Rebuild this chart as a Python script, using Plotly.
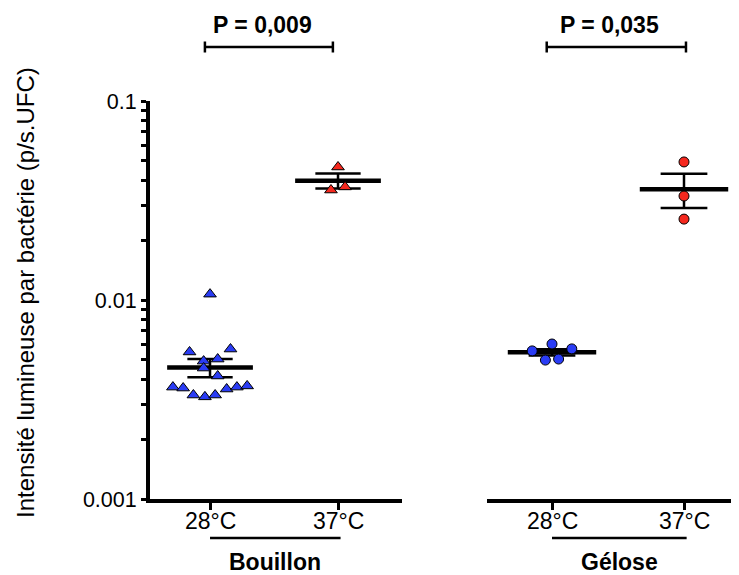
import numpy as np
import plotly.graph_objects as go

# ---------------- data ----------------
categories = ["28°C", "37°C"]
groups = ["Bouillon", "Gélose"]
p_labels = ["P = 0,009", "P = 0,035"]

bouillon_28 = [0.0107, 0.00548, 0.00567, 0.00493, 0.00505, 0.00455, 0.00415,
               0.00365, 0.00361, 0.00333, 0.00326, 0.00333, 0.00357, 0.00365, 0.00370]
bouillon_37 = [0.0466, 0.0357, 0.0370]
gelose_28 = [0.00555, 0.00601, 0.00499, 0.00505, 0.00568]
gelose_37 = [0.0494, 0.0333, 0.0255]

# horizontal scatter offsets (category units) as in the dot plot
bouillon_28_jitter = [0, -0.16, 0.16, -0.05, 0.06, -0.05, 0.06,
                      -0.29, -0.21, -0.13, -0.04, 0.04, 0.13, 0.21, 0.29]
bouillon_37_jitter = [0, -0.055, 0.055]
gelose_28_jitter = [-0.15, 0, -0.05, 0.05, 0.15]
gelose_37_jitter = [0, 0, 0]

y_major_vals = [0.001, 0.01, 0.1]
y_major_labels = ["0.001", "0.01", "0.1"]

# ---------------- style ----------------
FONT = "Liberation Sans, Arial, Helvetica, sans-serif"
BLUE = "#2a3cf5"
RED = "#f5281e"

OFF = 8  # page body margin
W, H = 731, 567
L, R, T, B = 142, 0, 93, 76
PW, PH = W - L - R, H - T - B


def sx(p):  # screen pixel x -> paper
    return (p - OFF - L) / PW


def sy(p):  # screen pixel y -> paper
    return (H - B - (p - OFF)) / PH


fig = go.Figure()


def add_group(vals, jitter, cx, xaxis, color, symbol):
    v = np.array(vals, dtype=float)
    m = v.mean()
    s = v.std(ddof=1) / np.sqrt(len(v))
    hw, sw = 0.335, 0.177
    fig.add_trace(go.Scatter(x=[cx - hw, cx + hw], y=[m, m], mode="lines",
                             line=dict(color="black", width=4.5),
                             xaxis=xaxis, yaxis="y", showlegend=False, hoverinfo="skip"))
    fig.add_trace(go.Scatter(
        x=[cx - sw, cx + sw, None, cx - sw, cx + sw, None, cx, cx],
        y=[m + s, m + s, None, m - s, m - s, None, m - s, m + s],
        mode="lines", line=dict(color="black", width=2.5),
        xaxis=xaxis, yaxis="y", showlegend=False, hoverinfo="skip"))
    fig.add_trace(go.Scatter(
        x=[cx + j for j in jitter], y=vals, mode="markers",
        marker=dict(symbol=symbol, size=10 if symbol == "circle" else 11,
                    color=color, line=dict(color="black", width=1)),
        xaxis=xaxis, yaxis="y", showlegend=False))


add_group(bouillon_28, bouillon_28_jitter, 1, "x", BLUE, "triangle-up")
add_group(bouillon_37, bouillon_37_jitter, 2, "x", RED, "triangle-up")
add_group(gelose_28, gelose_28_jitter, 1, "x2", BLUE, "circle")
add_group(gelose_37, gelose_37_jitter, 2, "x2", RED, "circle")

minor_vals = [k * 10.0 ** e for e in (-3, -2) for k in range(2, 10)]
tickvals = y_major_vals + minor_vals
ticktext = y_major_labels + [""] * len(minor_vals)

axis_common = dict(showline=True, linecolor="black", linewidth=4, ticks="outside",
                   tickcolor="black", tickwidth=3, showgrid=False, zeroline=False)

fig.update_layout(
    width=W, height=H,
    margin=dict(l=L, r=R, t=T, b=B, pad=0),
    paper_bgcolor="white", plot_bgcolor="white",
    font=dict(family=FONT, color="black"),
    xaxis=dict(domain=[0, sx(402)], range=[0.531, 2.5], tickvals=[1, 2],
               showticklabels=False, ticklen=7, anchor="y", **axis_common),
    xaxis2=dict(domain=[sx(487), 1], range=[0.5076, 2.4167], tickvals=[1, 2],
                showticklabels=False, ticklen=7, anchor="y", **axis_common),
    yaxis=dict(type="log", range=[-3, -1], tickvals=tickvals, ticktext=ticktext,
               ticklen=5, tickfont=dict(family=FONT, size=21.5, color="black"),
               **axis_common),
)

# y title
fig.add_annotation(text="Intensité lumineuse par bactérie (p/s.UFC)", textangle=-90,
                   xref="paper", yref="paper", x=sx(25), y=sy(293),
                   xanchor="center", yanchor="middle", showarrow=False,
                   font=dict(family=FONT, size=24, color="black"))

# category labels, group labels and underlines
for xa, name in zip(["x", "x2"], groups):
    for i, cat in enumerate(categories):
        fig.add_annotation(text=cat, xref=xa, yref="paper", x=i + 1, y=sy(521),
                           xanchor="center", yanchor="middle", showarrow=False,
                           font=dict(family=FONT, size=23, color="black"))
    fig.add_shape(type="line", xref=xa, yref="paper", x0=1, x1=2.02,
                  y0=sy(538), y1=sy(538), line=dict(color="black", width=2.5))
    fig.add_annotation(text="<b>%s</b>" % name, xref=xa, yref="paper", x=1.51,
                       y=sy(562), xanchor="center", yanchor="middle", showarrow=False,
                       font=dict(family=FONT, size=23, color="black"))

# significance brackets
brackets = [("x", 0.96, 1.96), ("x2", 0.96, 2.015)]
for (xa, a, b), lab in zip(brackets, p_labels):
    yb = sy(47)
    fig.add_shape(type="line", xref=xa, yref="paper", x0=a, x1=b, y0=yb, y1=yb,
                  line=dict(color="black", width=2.5))
    for xx in (a, b):
        fig.add_shape(type="line", xref=xa, yref="paper", x0=xx, x1=xx,
                      y0=sy(41.5), y1=sy(52.5), line=dict(color="black", width=2.5))
    fig.add_annotation(text="<b>%s</b>" % lab, xref=xa, yref="paper", x=(a + b) / 2 - 0.05,
                       y=sy(25), xanchor="center", yanchor="middle", showarrow=False,
                       font=dict(family=FONT, size=23, color="black"))

fig.write_html("out.html")
